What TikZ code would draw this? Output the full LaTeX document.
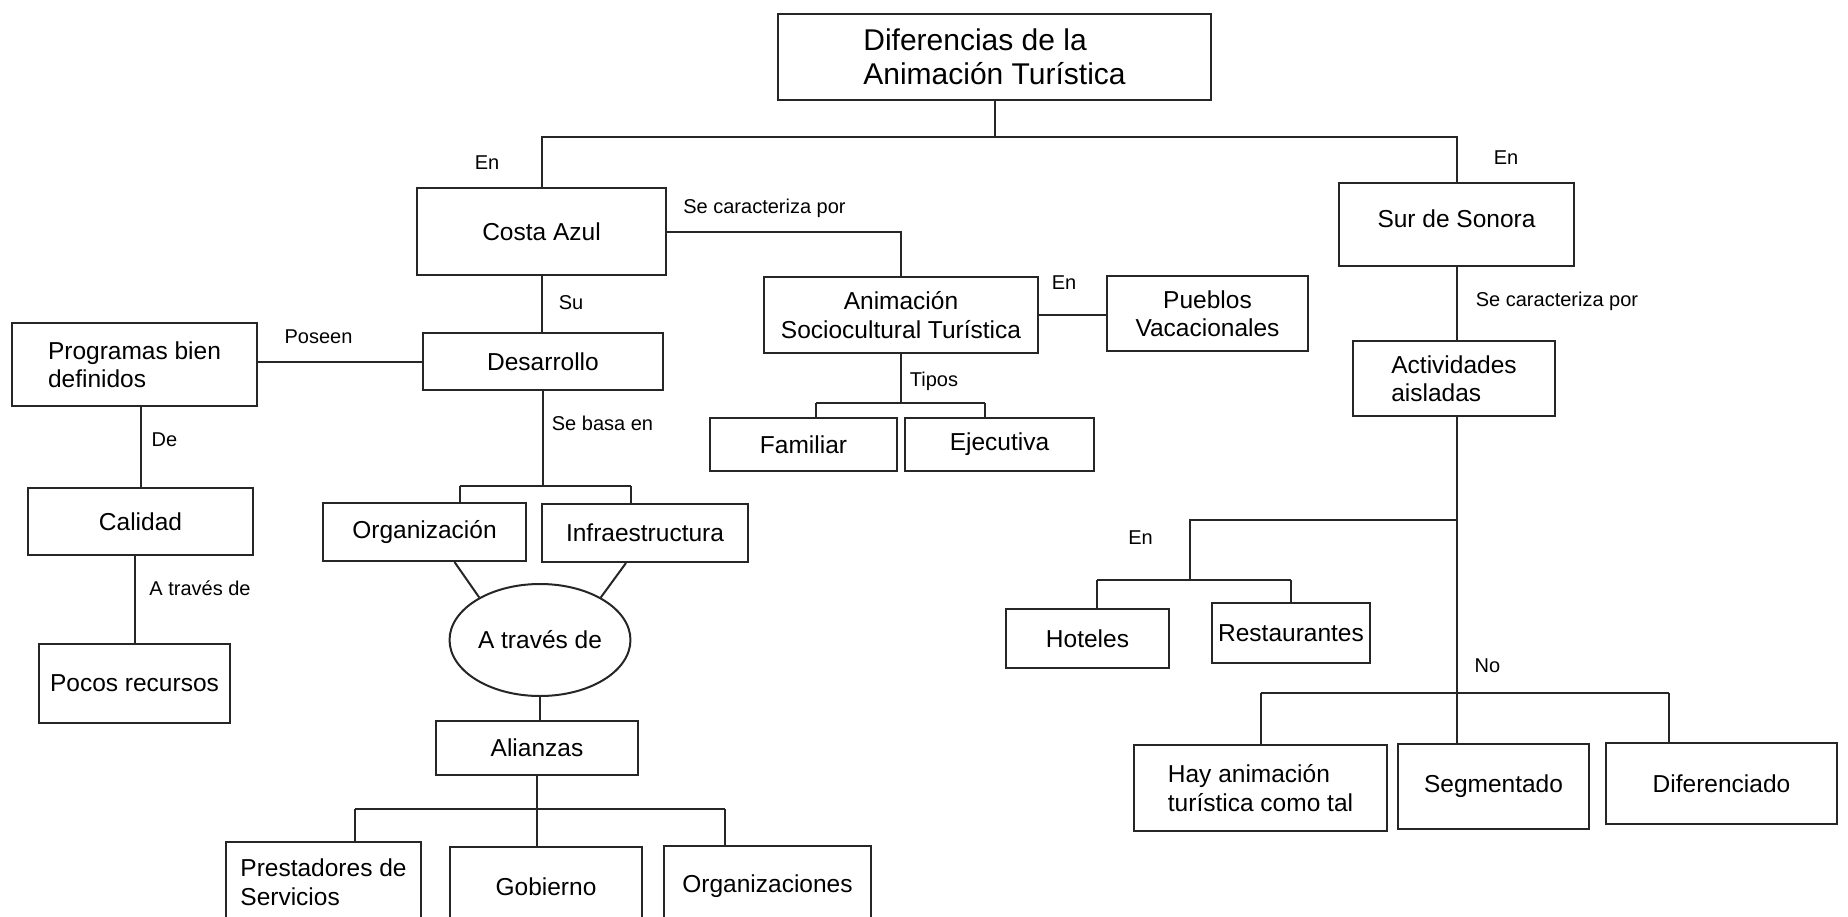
\documentclass[tikz,border=0pt]{standalone}
\usepackage{fontspec}
\setmainfont{Liberation Sans}
\usetikzlibrary{calc,shapes.geometric}

\tikzset{
  caja/.style={draw=black!85, line width=2pt, rectangle, inner sep=2pt,
    font=\fontsize{24.5}{28.5}\selectfont},
  rotulo/.style={inner sep=0pt, font=\fontsize{20}{23}\selectfont},
  enlace/.style={draw=black!85, line width=2pt},
}

\begin{document}
\begin{tikzpicture}[x=1pt,y=-1pt]
			%%%%% FONDO %%%%%
			\fill[white] (0,0) rectangle (1848,916);
			\useasboundingbox (0,0) rectangle (1848,916);
			
			%%%%% CAJAS %%%%%
			\node[caja, minimum width=433pt, minimum height=86pt, align=left,
			  font=\fontsize{30}{34}\selectfont] (dif) at (994.5,57) {Diferencias de la\\Animación Turística};
			
			\node[caja, minimum width=249pt, minimum height=87pt] (costa) at (541.5,231.5) {Costa Azul};
			\node[caja, minimum width=235pt, minimum height=83pt, text height=18pt, text depth=12pt] (sur) at (1456.5,224.5) {Sur de Sonora};
			\node[caja, minimum width=274pt, minimum height=76pt, align=center] (anim) at (901,315) {Animación\\Sociocultural Turística};
			\node[caja, minimum width=201pt, minimum height=75pt, align=center] (pueblos) at (1207.5,313.5) {Pueblos\\Vacacionales};
			\node[caja, minimum width=240pt, minimum height=57pt] (desarrollo) at (543,361.5) {Desarrollo};
			\node[caja, minimum width=245pt, minimum height=83pt, align=left] (programas) at (134.5,364.5) {Programas bien\\definidos};
			\node[caja, minimum width=187pt, minimum height=53pt] (familiar) at (803.5,444.5) {Familiar};
			\node[caja, minimum width=189pt, minimum height=53pt] (ejecutiva) at (999.5,444.5) {Ejecutiva};
			\node[caja, minimum width=225pt, minimum height=67pt] (calidad) at (140.5,521.5) {Calidad};
			\node[caja, minimum width=191pt, minimum height=79pt] (pocos) at (134.5,683.5) {Pocos recursos};
			\node[caja, minimum width=203pt, minimum height=58pt] (organizacion) at (424.5,532) {Organización};
			\node[caja, minimum width=206pt, minimum height=58pt] (infra) at (645,533) {Infraestructura};
			\node[caja, ellipse, minimum width=170pt, minimum height=112pt] (atraves) at (540,640) {A través de};
			\node[caja, minimum width=202pt, minimum height=54pt] (alianzas) at (537,748) {Alianzas};
			\node[caja, minimum width=195pt, minimum height=80pt, align=left] (prestadores) at (323.5,882) {Prestadores de\\Servicios};
			\node[caja, minimum width=192pt, minimum height=80pt] (gobierno) at (546,887) {Gobierno};
			\node[caja, minimum width=207pt, minimum height=80pt] (organizaciones) at (767.5,886) {Organizaciones};
			\node[caja, minimum width=202pt, minimum height=75pt, align=left] (actividades) at (1454,378.5) {Actividades\\aisladas};
			\node[caja, minimum width=163pt, minimum height=59pt] (hoteles) at (1087.5,638.5) {Hoteles};
			\node[caja, minimum width=158pt, minimum height=60pt] (restaurantes) at (1291,633) {Restaurantes};
			\node[caja, minimum width=253pt, minimum height=86pt, align=left] (hay) at (1260.5,788) {Hay animación\\turística como tal};
			\node[caja, minimum width=191pt, minimum height=85pt] (segmentado) at (1493.5,786.5) {Segmentado};
			\node[caja, minimum width=231pt, minimum height=81pt] (diferenciado) at (1721.5,783.5) {Diferenciado};
			
			%%%%% ROTULOS %%%%%
			\node[rotulo] (en1) at (487,163) {En};
			\node[rotulo] (en2) at (1506,158) {En};
			\node[rotulo] (carac1) at (764.5,208) {Se caracteriza por};
			\node[rotulo] (en3) at (1064,283) {En};
			\node[rotulo] (su) at (571,303) {Su};
			\node[rotulo] (poseen) at (318.5,337) {Poseen};
			\node[rotulo] (carac2) at (1557,301) {Se caracteriza por};
			\node[rotulo] (de) at (164.5,440) {De};
			\node[rotulo] (basa) at (602.5,423) {Se basa en};
			\node[rotulo] (tipos) at (934,381) {Tipos};
			\node[rotulo] (traves) at (200,588) {A través de};
			\node[rotulo] (en4) at (1140.5,538) {En};
			\node[rotulo] (no) at (1487.5,666) {No};
			
			%%%%% UNIONES %%%%%
			\coordinate (jtop) at (994.5,137);
			\draw[enlace] (dif.south) -- (jtop);
			\draw[enlace] (costa.north) |- (jtop) -| (sur.north);
			\draw[enlace] (costa.east) -| (anim.north);
			\draw[enlace] (anim.east) -- (pueblos.west |- anim.east);
			\draw[enlace] (costa.south) -- (costa.south |- desarrollo.north);
			\draw[enlace] (desarrollo.west) -- (desarrollo.west -| programas.east);
			\draw[enlace] (calidad.north |- programas.south) -- (calidad.north);
			\draw[enlace] (pocos.north) -- (pocos.north |- calidad.south);
			
			% desarrollo
			\coordinate (jdes) at (543,486);
			\coordinate (jorg) at (460,486);
			\coordinate (jinf) at (631,486);
			\draw[enlace] (desarrollo.south) -- (jdes);
			\draw[enlace] (jorg) -- (jinf);
			\draw[enlace] (jorg) -- (jorg |- organizacion.north);
			\draw[enlace] (jinf) -- (jinf |- infra.north);
			\draw[enlace] ($(organizacion.south)+(30,0)$) -- (atraves.145);
			\draw[enlace] ($(infra.south)+(-19,0)$) -- (atraves.35);
			\draw[enlace] (atraves.south) -- (atraves.south |- alianzas.north);
			
			% alianzas
			\coordinate (jali) at (537,809);
			\coordinate (jpre) at (355,809);
			\coordinate (jorgs) at (725,809);
			\draw[enlace] (alianzas.south) -- (jali);
			\draw[enlace] (jpre) -- (jorgs);
			\draw[enlace] (jpre) -- (jpre |- prestadores.north);
			\draw[enlace] (jali) -- (jali |- gobierno.north);
			\draw[enlace] (jorgs) -- (jorgs |- organizaciones.north);
			
			% tipos
			\coordinate (jtip) at (901,403);
			\coordinate (jfam) at (816,403);
			\coordinate (jeje) at (985,403);
			\draw[enlace] (anim.south) -- (jtip);
			\draw[enlace] (jfam) -- (jeje);
			\draw[enlace] (jfam) -- (jfam |- familiar.north);
			\draw[enlace] (jeje) -- (jeje |- ejecutiva.north);
			
			% sur de sonora
			\draw[enlace] (sur.south) -- (sur.south |- actividades.north);
			\coordinate (jact) at (1456.5,520);
			\coordinate (jno) at (1456.5,693);
			\draw[enlace] (actividades.south -| jact) -- (jno) -- (jno |- segmentado.north);
			\coordinate (jen) at (1190,520);
			\coordinate (jenb) at (1190,580);
			\coordinate (jhot) at (1097,580);
			\coordinate (jres) at (1291,580);
			\draw[enlace] (jact) -- (jen) -- (jenb);
			\draw[enlace] (jhot) -- (jres);
			\draw[enlace] (jhot) -- (jhot |- hoteles.north);
			\draw[enlace] (jres) -- (restaurantes.north);
			\coordinate (jhay) at (1260.5,693);
			\coordinate (jdif) at (1669,693);
			\draw[enlace] (jhay) -- (jdif);
			\draw[enlace] (jhay) -- (hay.north);
			\draw[enlace] (jdif) -- (jdif |- diferenciado.north);
		\end{tikzpicture}
\end{document}
